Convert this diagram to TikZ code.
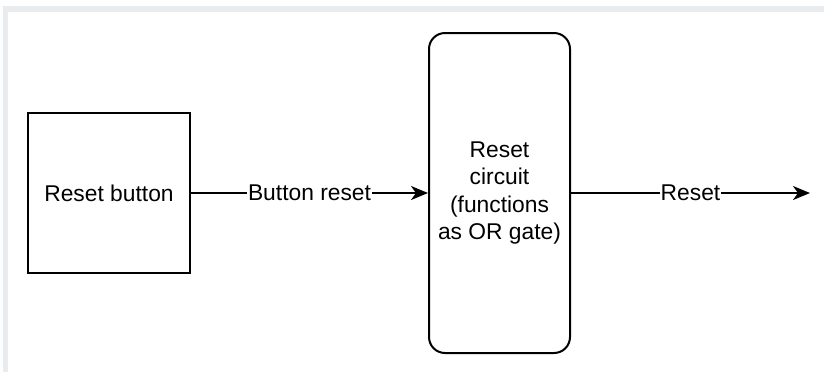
\documentclass[tikz,border=0pt]{standalone}
\usepackage{fontspec}
\setmainfont{Liberation Sans}
\usepackage{xcolor}
\usetikzlibrary{arrows.meta,positioning}
\definecolor{framegray}{HTML}{E9ECEF}
\tikzset{
  block/.style={draw,line width=1pt,align=center,inner sep=2pt},
  lbl/.style={fill=white,inner sep=0.3pt},
  every node/.style={font=\fontsize{11.4}{13.8}\selectfont}
}
\tikzstyle{arrow} = [line width=1pt,-{Stealth[length=8.5pt,width=7pt,inset=2.5pt]}]

\begin{document}
\begin{tikzpicture}[x=0.5pt,y=-0.5pt]
\useasboundingbox (0,0) rectangle (824,372);
\fill[framegray] (3,6) rectangle (824,372);
\fill[white] (8,12) rectangle (824,372);
\node[block,minimum width=81pt,minimum height=80pt] (btn) at (109,193) {Reset button};
\node[block,rounded corners=8pt,minimum width=70.5pt,minimum height=160pt] (rst) at (499.5,193) {Reset\\circuit\\(functions\\as OR gate)};
\coordinate (out) at (810,193);
\draw[arrow] (btn)--node[lbl]{Button reset}(rst);
\draw[arrow] (rst)--node[lbl]{Reset}(out);
\end{tikzpicture}
\end{document}
